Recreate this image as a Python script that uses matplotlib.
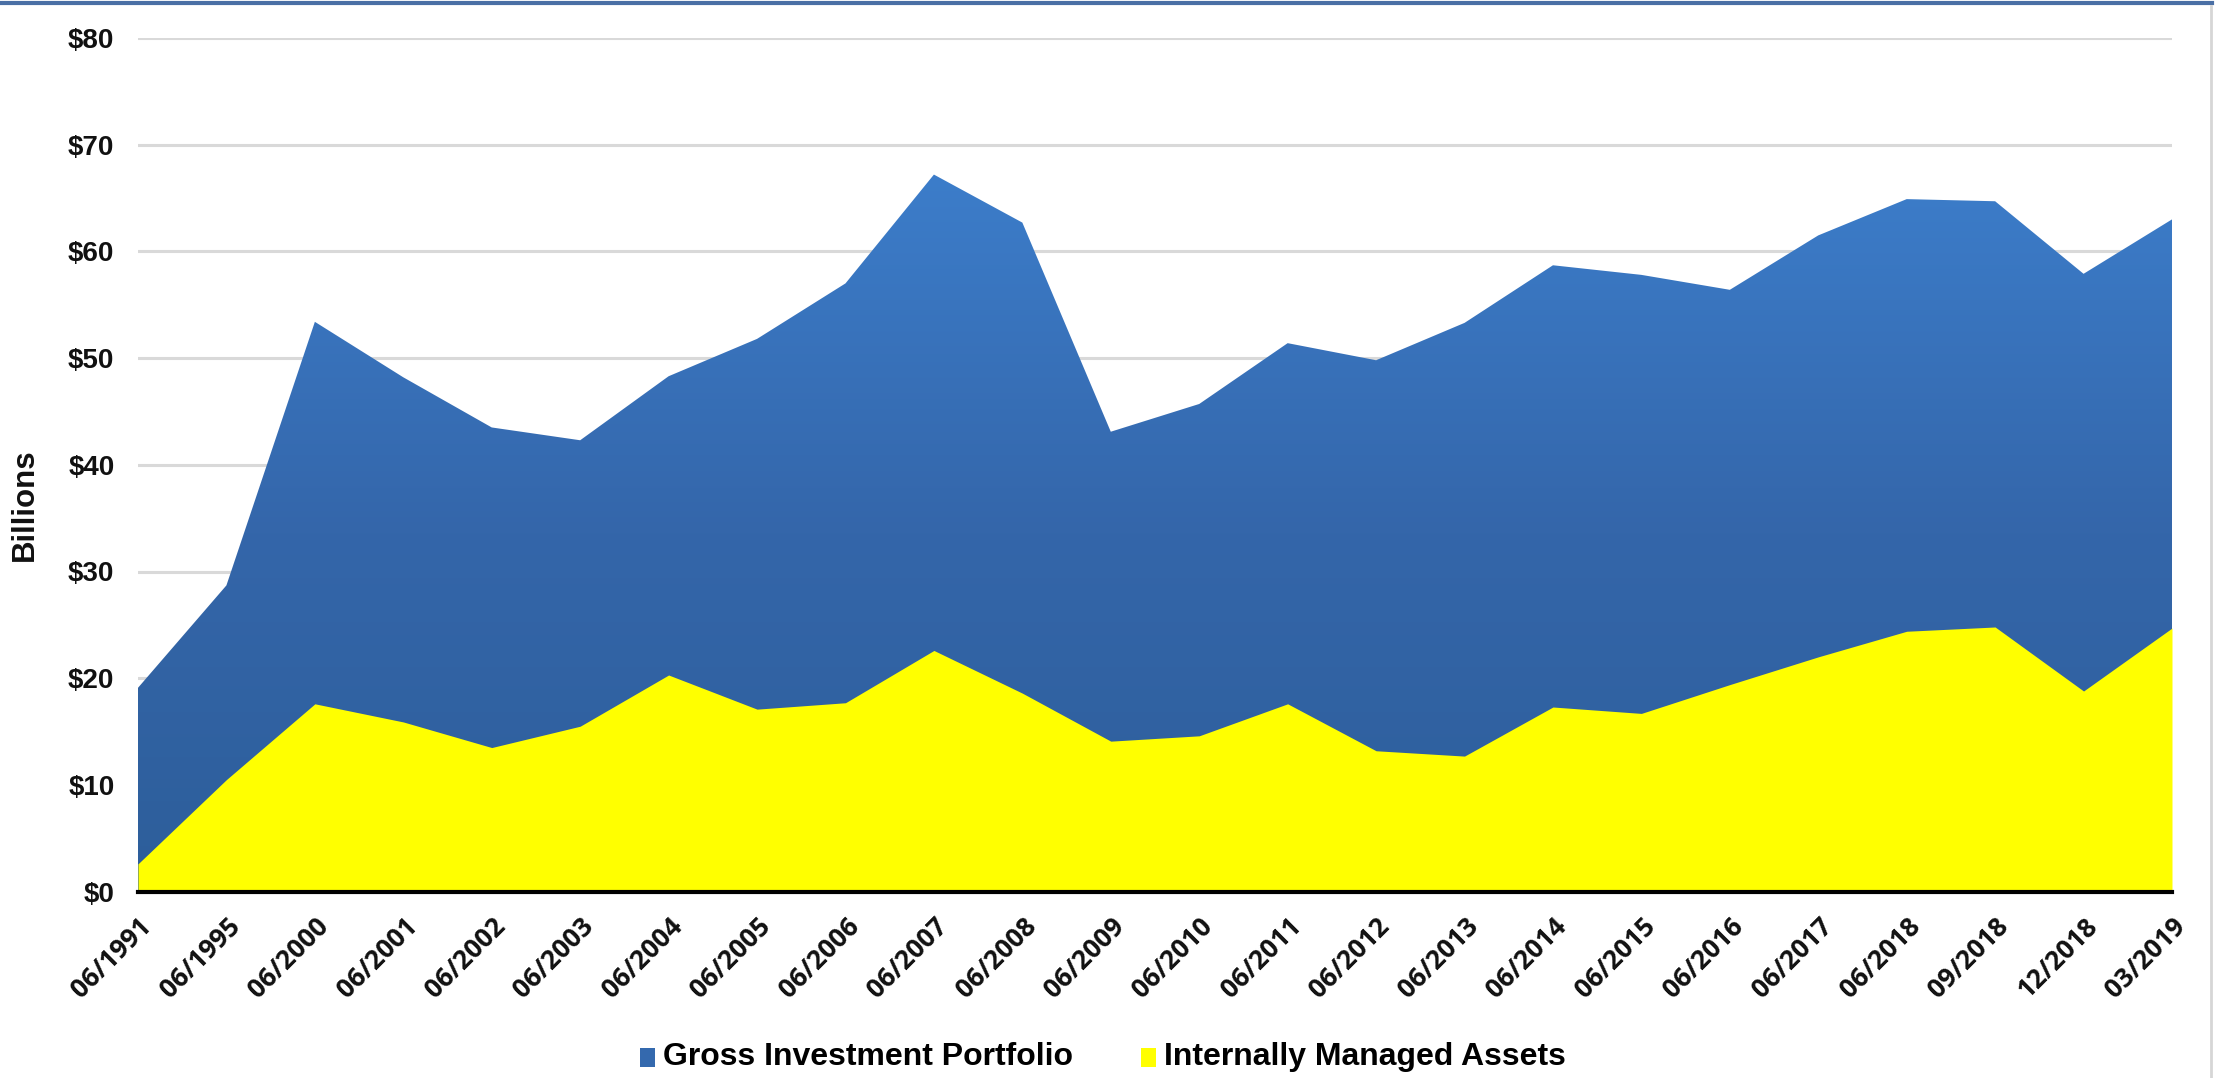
import numpy as np
import matplotlib
matplotlib.use("Agg")
import matplotlib.pyplot as plt
from matplotlib.colors import LinearSegmentedColormap
from matplotlib.patches import Rectangle
from matplotlib.lines import Line2D

# ---- data (billions of dollars) ----
dates = ["06/1991", "06/1995", "06/2000", "06/2001", "06/2002", "06/2003", "06/2004",
         "06/2005", "06/2006", "06/2007", "06/2008", "06/2009", "06/2010", "06/2011",
         "06/2012", "06/2013", "06/2014", "06/2015", "06/2016", "06/2017", "06/2018",
         "09/2018", "12/2018", "03/2019"]
gross_portfolio = [19.1, 28.7, 53.4, 48.2, 43.5, 42.3, 48.3, 51.8, 57.0, 67.2, 62.7, 43.1,
                   45.7, 51.4, 49.8, 53.3, 58.7, 57.8, 56.4, 61.5, 64.9, 64.7, 57.9, 63.0]
internal_assets = [2.6, 10.5, 17.6, 15.9, 13.5, 15.5, 20.3, 17.1, 17.7, 22.6, 18.6, 14.1,
                   14.6, 17.6, 13.2, 12.7, 17.3, 16.7, 19.4, 22.0, 24.4, 24.8, 18.8, 24.7]
y_ticks = [0, 10, 20, 30, 40, 50, 60, 70, 80]
y_ticklabels = ["$0", "$10", "$20", "$30", "$40", "$50", "$60", "$70", "$80"]
series_names = ["Gross Investment Portfolio", "Internally Managed Assets"]

W, H = 2218, 1078
fig = plt.figure(figsize=(W / 100, H / 100), dpi=100)
fig.patch.set_facecolor("white")
ax = fig.add_axes([138 / W, 1 - 891.6 / H, (2172 - 138) / W, (891.6 - 38) / H])

x = np.arange(len(dates))
ax.set_xlim(0, len(dates) - 1)
ax.set_ylim(0, 80)

# gridlines
ax.set_yticks(y_ticks)
ax.yaxis.grid(True, color="#D9D9D9", linewidth=2.2, zorder=0)
ax.set_axisbelow(True)

# gross area with vertical gradient
blue_cmap = LinearSegmentedColormap.from_list("bl", ["#2D5E9A", "#3466AA", "#3C7DCA"])
poly = ax.fill_between(x, 0, gross_portfolio, color="none", linewidth=0, zorder=2)
grad = np.linspace(0, 1, 256).reshape(-1, 1)
im = ax.imshow(grad, cmap=blue_cmap, origin="lower", aspect="auto",
               extent=[0, len(dates) - 1, 0, max(gross_portfolio)], zorder=2,
               interpolation="bilinear")
clip_path = poly.get_paths()[0]
im.set_clip_path(clip_path, transform=ax.transData)
ax.set_xlim(0, len(dates) - 1)
ax.set_ylim(0, 80)

# internally managed area
ax.fill_between(x, 0, internal_assets, color="#FFFF00", linewidth=0, zorder=3)

# spines
for s in ["top", "right", "left"]:
    ax.spines[s].set_visible(False)
ax.spines["bottom"].set_color("black")
ax.spines["bottom"].set_linewidth(3)
ax.spines["bottom"].set_zorder(5)

# ticks
ax.set_yticklabels(y_ticklabels, fontfamily="Liberation Sans", fontweight="bold",
                   fontsize=20, color="#111111")
ax.tick_params(axis="y", length=0, pad=17)
ax.set_xticks(x)
ax.set_xticklabels(dates, rotation=45, ha="right", va="top", rotation_mode="anchor",
                   fontfamily="Open Sans", fontweight="bold", fontsize=19, color="#111111")
ax.tick_params(axis="x", length=0, pad=15)

# y label
fig.text(25 / W, 1 - 505 / H, "Billions", rotation=90, ha="center", va="center",
         fontfamily="Liberation Sans", fontweight="bold", fontsize=22.5, color="#111111")

# legend
fig.patches.append(Rectangle((640 / W, 1 - 1067 / H), 15 / W, 19 / H,
                             transform=fig.transFigure, facecolor="#3469AE",
                             edgecolor="none"))
fig.text(663 / W, 1 - 1057 / H, series_names[0], ha="left", va="center",
         fontfamily="Liberation Sans", fontweight="bold", fontsize=23, color="black")
fig.patches.append(Rectangle((1141 / W, 1 - 1067 / H), 15 / W, 19 / H,
                             transform=fig.transFigure, facecolor="#FFFF00",
                             edgecolor="none"))
fig.text(1164 / W, 1 - 1057 / H, series_names[1], ha="left", va="center",
         fontfamily="Liberation Sans", fontweight="bold", fontsize=23, color="black")

# frame lines
fig.add_artist(Line2D([0, 2212 / W], [1 - 3 / H, 1 - 3 / H], transform=fig.transFigure,
                      color="#4A6FA5", linewidth=3))
fig.add_artist(Line2D([2211 / W, 2211 / W], [1 - 6 / H, 0], transform=fig.transFigure,
                      color="#D6D6D6", linewidth=2))

fig.savefig("out.png", dpi=100, facecolor="white")
